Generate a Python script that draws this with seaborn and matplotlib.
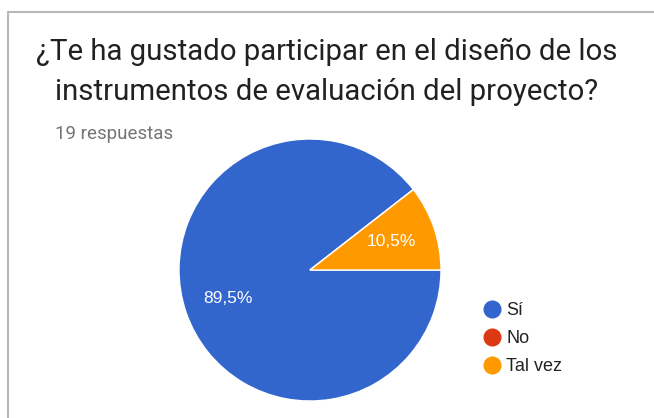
import matplotlib
matplotlib.use("Agg")
import matplotlib.pyplot as plt
import seaborn as sns
from matplotlib.lines import Line2D

# survey answers
labels = ["Sí", "No", "Tal vez"]
counts = [17, 0, 2]
colors = ["#3366CC", "#DC3912", "#FF9900"]
title_lines = ["¿Te ha gustado participar en el diseño de los",
               "instrumentos de evaluación del proyecto?"]
subtitle = "19 respuestas"

sns.set_theme(style="white")
plt.rcParams['font.family'] = ['Liberation Sans', 'DejaVu Sans']

fig = plt.figure(figsize=(6.54, 4.18), dpi=100)

# card border (top and left edges)
fig.add_artist(Line2D([8/654, 1], [1-12/418, 1-12/418], color="#b8b8b8", lw=1.5, transform=fig.transFigure))
fig.add_artist(Line2D([8/654, 8/654], [0, 1-12/418], color="#b8b8b8", lw=1.5, transform=fig.transFigure))

for i, line in enumerate(title_lines):
    fig.text(0.5, 1-(60+40*i)/418, line, ha="center", va="baseline", fontsize=21.2,
             family=["Roboto", "DejaVu Sans"], color="#212121")
fig.text(55/654, 1-139/418, subtitle, ha="left", va="baseline", fontsize=13.5,
         family=["Roboto", "DejaVu Sans"], color="#757575")

ax = fig.add_axes([(310-131)/654, (418-270-131)/418, 262/654, 262/418])


def pct(p):
    if p < 1:
        return ""
    return f"{p:.1f}%".replace(".", ",")


wedges, texts, autotexts = ax.pie(counts, colors=colors, startangle=0, counterclock=False,
                                  autopct=pct, pctdistance=0.66,
                                  wedgeprops=dict(edgecolor="white", linewidth=1),
                                  textprops=dict(color="white", fontsize=12.5))
ax.set_xlim(-1, 1)
ax.set_ylim(-1, 1)
ax.set_aspect("equal")

handles = [Line2D([], [], marker="o", color=c, linestyle="", markersize=12) for c in colors]
fig.legend(handles, labels, loc="upper left", bbox_to_anchor=(474/654, 1-295/418),
           frameon=False, fontsize=13, labelspacing=0.6, handletextpad=0.2,
           handlelength=1.2, borderaxespad=0, labelcolor="#222222")

fig.savefig("out.png", dpi=100)
